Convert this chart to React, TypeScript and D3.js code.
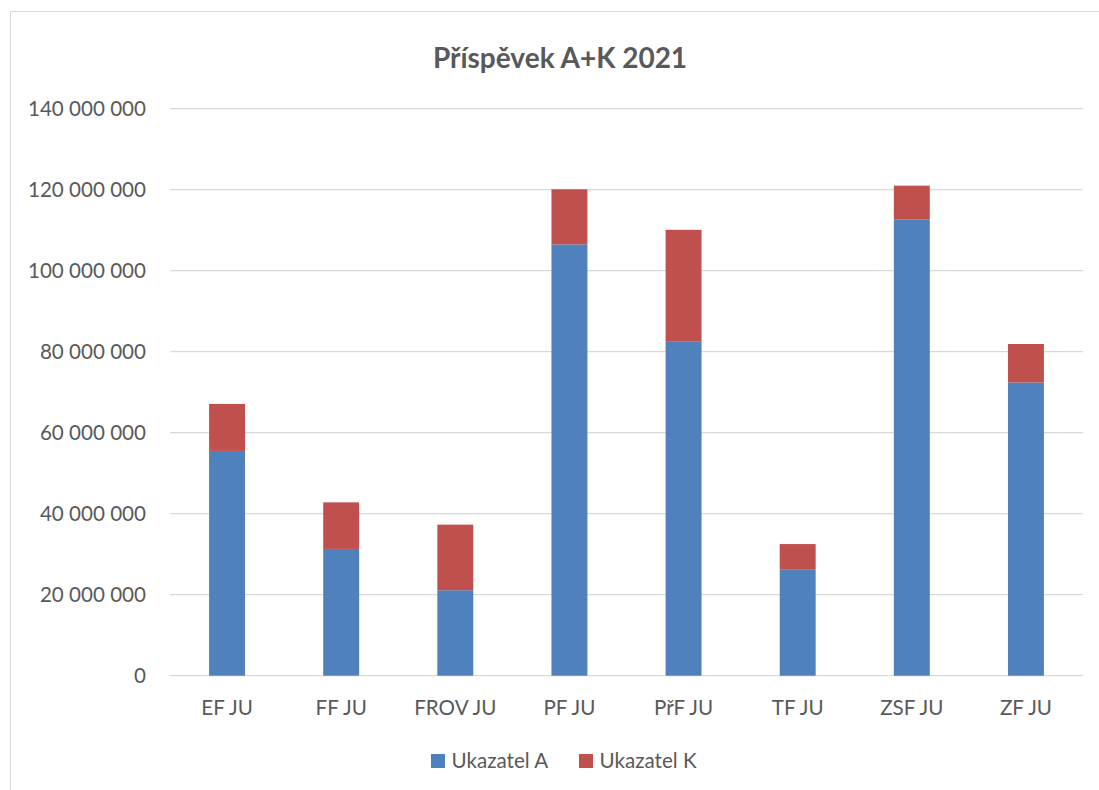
import React from "react";
import * as d3 from "d3";

const categories = ["EF JU", "FF JU", "FROV JU", "PF JU", "PřF JU", "TF JU", "ZSF JU", "ZF JU"];
const ukazatelA = [55500000, 31300000, 21100000, 106500000, 82600000, 26300000, 112700000, 72400000];
const ukazatelK = [11600000, 11500000, 16200000, 13600000, 27500000, 6200000, 8300000, 9500000];
const yTicks = [0, 20000000, 40000000, 60000000, 80000000, 100000000, 120000000, 140000000];
const seriesNames = ["Ukazatel A", "Ukazatel K"];
const colors = ["#4F81BD", "#C0504D"];

const W = 1099;
const H = 790;
const FONT = "Lato, 'Open Sans', sans-serif";
const FS = 20.6;

export default function App() {
  const x = d3.scaleBand<string>().domain(categories).range([170, 1083]).paddingInner(0.685).paddingOuter(0.3425);
  const y = d3.scaleLinear().domain([0, 140000000]).range([675.7, 108.7]);

  const data = categories.map((c, i) => ({ cat: c, A: ukazatelA[i], K: ukazatelK[i] }));
  const stack = d3.stack<any>().keys(["A", "K"])(data);

  const fmt = (v: number) => (v === 0 ? "0" : d3.format(",")(v).replace(/,/g, " "));

  return (
    <svg width={W} height={H} style={{ position: "absolute", left: 0, top: 0, background: "#fff" }}>
      <rect x={10.5} y={11.5} width={1200} height={900} fill="#fff" stroke="#d9d9d9" strokeWidth={1} />
      <text x={560} y={58} dy="0.35em" textAnchor="middle" fontFamily={FONT} fontWeight="bold" fontSize={28} fill="#595959">
        Příspěvek A+K 2021
      </text>
      {yTicks.map((t) => (
        <g key={t}>
          <line x1={170} x2={1083} y1={y(t)} y2={y(t)} stroke="#d9d9d9" strokeWidth={1.3} />
          <text x={146} y={y(t)} dy="0.35em" textAnchor="end" fontFamily={FONT} fontSize={FS} fill="#595959">
            {fmt(t)}
          </text>
        </g>
      ))}
      {stack.map((s, si) => (
        <g key={si} fill={colors[si]}>
          {s.map((d: any, i: number) => (
            <rect
              key={i}
              x={x(d.data.cat)}
              width={x.bandwidth()}
              y={y(d[1])}
              height={y(d[0]) - y(d[1])}
            />
          ))}
        </g>
      ))}
      {categories.map((c) => (
        <text
          key={c}
          x={(x(c) as number) + x.bandwidth() / 2}
          y={708}
          dy="0.35em"
          textAnchor="middle"
          fontFamily={FONT}
          fontSize={FS}
          fill="#595959"
        >
          {c}
        </text>
      ))}
      {seriesNames.map((n, i) => {
        const lx = [431, 579][i];
        return (
          <g key={n}>
            <rect x={lx} y={754} width={14} height={14} fill={colors[i]} />
            <text x={lx + 20.5} y={761} dy="0.35em" fontFamily={FONT} fontSize={FS} fill="#595959">
              {n}
            </text>
          </g>
        );
      })}
    </svg>
  );
}
